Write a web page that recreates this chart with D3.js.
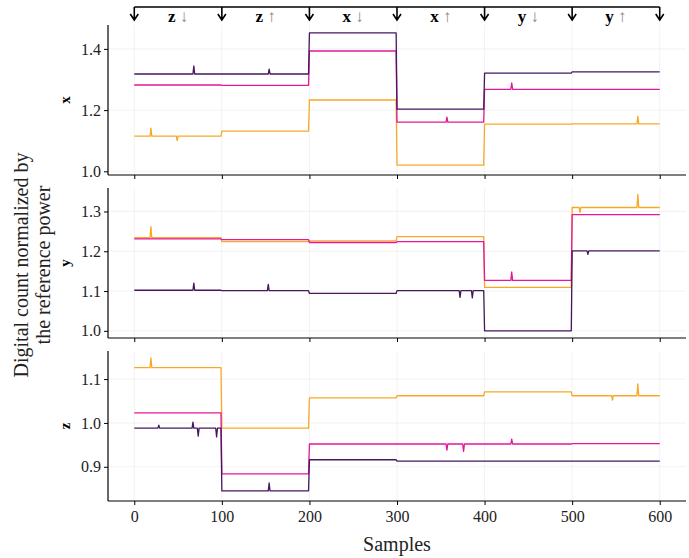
<!DOCTYPE html>
<html>
<head>
<meta charset="utf-8">
<script src="https://cdn.jsdelivr.net/npm/d3@7"></script>
<style>
  body { margin: 0; background: #fff; }
  svg text { font-family: "Liberation Serif", "DejaVu Serif", serif; }
</style>
</head>
<body>
<div id="chart"></div>
<script>
// sample positions where the test direction changes
const sampleTicks = [0, 100, 200, 300, 400, 500, 600];
const segAxis = ["z", "z", "x", "x", "y", "y"];
const segDir = ["\u2193", "\u2191", "\u2193", "\u2191", "\u2193", "\u2191"];

// mean level of each 100-sample segment
const xPurple  = [1.318, 1.318, 1.452, 1.203, 1.321, 1.325];
const xMagenta = [1.282, 1.281, 1.393, 1.161, 1.268, 1.268];
const xOrange  = [1.115, 1.131, 1.233, 1.020, 1.154, 1.155];
const yPurple  = [1.102, 1.101, 1.094, 1.101, 1.000, 1.201];
const yMagenta = [1.231, 1.229, 1.222, 1.224, 1.127, 1.292];
const yOrange  = [1.234, 1.224, 1.226, 1.237, 1.109, 1.310];
const zPurple  = [0.988, 0.845, 0.916, 0.913, 0.913, 0.913];
const zMagenta = [1.023, 0.884, 0.952, 0.952, 0.952, 0.953];
const zOrange  = [1.126, 0.988, 1.057, 1.062, 1.071, 1.062];

// single-sample spikes [sample, value]
const xPurpleSpikes  = [[68, 1.344], [154, 1.334]];
const xMagentaSpikes = [[357, 1.177], [431, 1.289]];
const xOrangeSpikes  = [[19, 1.141], [49, 1.100], [575, 1.180]];
const yPurpleSpikes  = [[68, 1.120], [153, 1.117], [372, 1.084], [386, 1.083], [518, 1.192]];
const yMagentaSpikes = [[431, 1.148]];
const yOrangeSpikes  = [[19, 1.262], [509, 1.298], [575, 1.343]];
const zPurpleSpikes  = [[28, 0.995], [67, 1.002], [73, 0.970], [94, 0.968], [154, 0.863]];
const zMagentaSpikes = [[357, 0.938], [376, 0.935], [431, 0.963]];
const zOrangeSpikes  = [[19, 1.148], [546, 1.052], [575, 1.089]];

const yTicksX = [1.0, 1.2, 1.4];
const yTicksY = [1.0, 1.1, 1.2, 1.3];
const yTicksZ = [0.9, 1.0, 1.1];

const colors = { purple: "#45175d", magenta: "#e6169a", orange: "#f9a826" };

// turn segment levels + spikes into a point list
function buildSeries(levels, spikes) {
    let pts = [];
    levels.forEach((lv, i) => {
        let s0 = i * 100, s1 = i === levels.length - 1 ? 600 : s0 + 99;
        pts.push([s0, lv]);
        spikes.filter(s => s[0] > s0 && s[0] < s1).forEach(s => {
            pts.push([s[0] - 1, lv], [s[0], s[1]], [s[0] + 1, lv]);
        });
        pts.push([s1, lv]);
    });
    return pts;
}

const panels = [
    { label: "x", top: 25, domain: [0.988, 1.478], ticks: yTicksX,
      series: [["orange", xOrange, xOrangeSpikes], ["magenta", xMagenta, xMagentaSpikes], ["purple", xPurple, xPurpleSpikes]] },
    { label: "y", top: 188, domain: [0.982, 1.359], ticks: yTicksY,
      series: [["orange", yOrange, yOrangeSpikes], ["magenta", yMagenta, yMagentaSpikes], ["purple", yPurple, yPurpleSpikes]] },
    { label: "z", top: 351, domain: [0.822, 1.164], ticks: yTicksZ,
      series: [["orange", zOrange, zOrangeSpikes], ["magenta", zMagenta, zMagentaSpikes], ["purple", zPurple, zPurpleSpikes]] }
];
const panelH = 150;

let svg = d3.select("#chart").append("svg")
    .attr("width", 689).attr("height", 558);

let x = d3.scaleLinear().domain([-30, 630]).range([108, 686]);

panels.forEach((p, pi) => {
    let y = d3.scaleLinear().domain(p.domain).range([p.top + panelH, p.top]);
    let g = svg.append("g");

    // light grid
    g.selectAll(".vg").data(sampleTicks).enter().append("line")
        .attr("x1", d => x(d)).attr("x2", d => x(d))
        .attr("y1", p.top).attr("y2", p.top + panelH)
        .attr("stroke", "#efefef").attr("stroke-width", 0.8);
    g.selectAll(".hg").data(p.ticks).enter().append("line")
        .attr("x1", 108).attr("x2", 686)
        .attr("y1", d => y(d)).attr("y2", d => y(d))
        .attr("stroke", "#efefef").attr("stroke-width", 0.8);

    // lines
    let line = d3.line().x(d => x(d[0])).y(d => y(d[1]));
    p.series.forEach(([c, levels, spikes]) => {
        g.append("path")
            .attr("d", line(buildSeries(levels, spikes)))
            .attr("fill", "none")
            .attr("stroke", colors[c])
            .attr("stroke-width", 1.3)
            .attr("stroke-linejoin", "round");
    });

    // axes
    let ax = g.append("g")
        .attr("transform", `translate(108,0)`)
        .call(d3.axisLeft(y).tickValues(p.ticks).tickFormat(d3.format(".1f")).tickSize(4).tickPadding(3));
    let bx = g.append("g")
        .attr("transform", `translate(0,${p.top + panelH})`)
        .call(d3.axisBottom(x).tickValues(sampleTicks).tickSize(4).tickPadding(6)
            .tickFormat(pi === 2 ? d3.format("d") : ""));
    [ax, bx].forEach(a => {
        a.select(".domain").attr("stroke", "#000").attr("stroke-width", 1.2)
            .attr("d", a === ax ? `M0,${p.top}V${p.top + panelH}` : `M108,0H686`);
        a.selectAll(".tick line").attr("stroke", "#000").attr("stroke-width", 1);
        a.selectAll(".tick text").attr("font-size", 16).attr("fill", "#222")
            .style("font-family", "'Liberation Serif', serif");
    });

    // panel label
    svg.append("text")
        .attr("transform", `translate(70,${p.top + panelH / 2}) rotate(-90)`)
        .attr("text-anchor", "middle")
        .attr("font-size", 15).attr("font-weight", "bold")
        .text(p.label);
});

// direction annotations at the top
let ann = svg.append("g").attr("stroke", "#000").attr("stroke-width", 1.6).attr("fill", "none");
ann.append("line").attr("x1", x(0)).attr("x2", x(600)).attr("y1", 7).attr("y2", 7);
sampleTicks.forEach(s => {
    ann.append("path")
        .attr("d", `M${x(s)},7V20M${x(s) - 4},14L${x(s)},20L${x(s) + 4},14`);
});
segAxis.forEach((a, i) => {
    let t = svg.append("text")
        .attr("x", x(i * 100 + 50)).attr("y", 22)
        .attr("text-anchor", "middle")
        .attr("font-size", 17);
    t.append("tspan").attr("font-weight", "bold").text(a + " ");
    t.append("tspan").attr("fill", "#888").text(segDir[i]);
});

// axis titles
svg.append("text")
    .attr("transform", "translate(28,265) rotate(-90)")
    .attr("text-anchor", "middle").attr("font-size", 20).attr("fill", "#222")
    .text("Digital count normalized by");
svg.append("text")
    .attr("transform", "translate(50,265) rotate(-90)")
    .attr("text-anchor", "middle").attr("font-size", 20).attr("fill", "#222")
    .text("the reference power");
svg.append("text")
    .attr("x", x(300)).attr("y", 551)
    .attr("text-anchor", "middle").attr("font-size", 20).attr("fill", "#222")
    .text("Samples");
</script>
</body>
</html>
